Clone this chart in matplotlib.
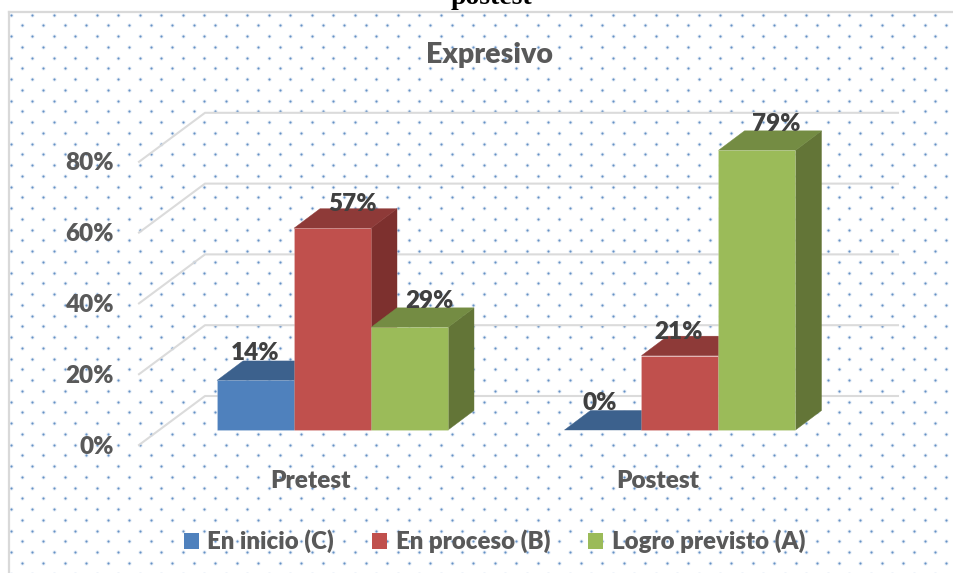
import numpy as np
import matplotlib.pyplot as plt
from matplotlib.patches import Polygon, Patch

plt.rcParams['font.family'] = ['Lato', 'DejaVu Sans']

categories = ["Pretest", "Postest"]
series_names = ["En inicio (C)", "En proceso (B)", "Logro previsto (A)"]
inicio = [14, 0]
proceso = [57, 21]
logro = [29, 79]
y_ticks = [0, 20, 40, 60, 80]

# front, top and side colours of each series
colors = [("#4f81bd", "#3c618d", "#335379"),
          ("#c0504d", "#8e3a38", "#7d302e"),
          ("#9bbb59", "#748c43", "#637537")]

W, H = 954, 573
PX_X = 347.5   # pixels per category
PX_Y = 3.54    # pixels per percent
X0, Y0 = 332.5, 430   # pixel position of first category, value 0

bar_w = 77 / PX_X
depth_x = 26 / PX_X
depth_y = 19.5 / PX_Y
wall_left = (205 - X0) / PX_X
wall_right = (898 - X0) / PX_X
wall_y = 34 / PX_Y
front_left = (139 - X0) / PX_X
front_y = -15 / PX_Y
FONT_WEIGHT = "heavy"

fig = plt.figure(figsize=(W / 100, H / 100), dpi=100)

# dotted chart background, drawn in pixel units
bg = fig.add_axes([0, 0, 1, 1])
bg.set_xlim(0, W)
bg.set_ylim(H, 0)
bg.axis("off")
dx, dy = 21.5, 10.75
dots_x, dots_y = [], []
for i, yy in enumerate(np.arange(14.7, H + dy, dy)):
    start = 11.0 if i % 2 == 0 else 21.7
    for xx in np.arange(start, W + dx, dx):
        dots_x.append(xx)
        dots_y.append(yy)
bg.scatter(dots_x, dots_y, s=9, color="#4f81bd", alpha=0.15, linewidths=0)
bg.scatter(dots_x, dots_y, s=2.4, color="#4f81bd", alpha=0.85, linewidths=0)
bg.plot([9.5, 9.5], [H, 12], color="#d9d9d9", lw=1.6)
bg.plot([9.5, W], [12, 12], color="#d9d9d9", lw=1.6)
bg.text(491, 4.5, "postest", family="Liberation Serif", weight="bold", fontsize=20,
        color="black", ha="center", va="baseline")

# chart axes: x in categories, y in percent
ax = fig.add_axes([0, 0, 1, 1])
ax.patch.set_alpha(0)
ax.set_xlim(-X0 / PX_X, (W - X0) / PX_X)
ax.set_ylim((Y0 - H) / PX_Y, Y0 / PX_Y)
ax.axis("off")

for v in y_ticks:
    ax.plot([front_left, wall_left, wall_right],
            [v + front_y, v + wall_y, v + wall_y],
            color="#d9d9d9", lw=1.5, alpha=0.95, zorder=2)
    ax.text((114 - X0) / PX_X, v + front_y - 1.5 / PX_Y, f"{v}%", ha="right", va="center",
            fontsize=17.5, weight=FONT_WEIGHT, color="#595959", zorder=6)

values = [inicio, proceso, logro]
# horizontal shift of each data label, by category and series, in pixels
label_dx = [[0, 20, 20], [-3, -1, 19]]
label_dy = [27, 24, 26]

z = 3
for g, cat in enumerate(categories):
    for s, vals in enumerate(values):
        v = vals[g]
        left = g + (s - 1.5) * bar_w
        right = left + bar_w
        front, top, side = colors[s]
        # side, top, then front face
        ax.add_patch(Polygon([(right, 0), (right + depth_x, depth_y),
                              (right + depth_x, v + depth_y), (right, v)],
                             closed=True, fc=side, ec=side, lw=0.3, zorder=z))
        ax.add_patch(Polygon([(left, v), (left + depth_x, v + depth_y),
                              (right + depth_x, v + depth_y), (right, v)],
                             closed=True, fc=top, ec=top, lw=0.3, zorder=z))
        if v > 0:
            ax.bar(left, v, width=bar_w, align="edge", color=front,
                   edgecolor=(1, 1, 1, 0.2), linewidth=0.6, zorder=z + 0.5)
        z += 1
    # category label sits on the front of the floor
    ax.text(g - 22 / PX_X, -50.5 / PX_Y, cat, ha="center", va="center",
            fontsize=17.5, weight=FONT_WEIGHT, color="#595959", zorder=30)

for g in range(len(categories)):
    for s, vals in enumerate(values):
        v = vals[g]
        center = g + (s - 1) * bar_w
        ax.annotate(f"{v}%", (center, v), xytext=(label_dx[g][s], label_dy[s]),
                    textcoords="offset pixels", ha="center", va="center",
                    fontsize=17.5, weight=FONT_WEIGHT, color="#404040", zorder=40)

ax.text((490 - X0) / PX_X, (Y0 - 55) / PX_Y, "Expresivo", ha="center", va="center",
        fontsize=20.5, weight=FONT_WEIGHT, color="#595959", zorder=40)

handles = [Patch(facecolor=c[0], edgecolor="none", label=n) for c, n in zip(colors, series_names)]
ax.legend(handles=handles, ncol=3, frameon=False, loc="center",
          bbox_to_anchor=(494.5 / W, 1 - 541.5 / H),
          labelcolor="#595959", prop={"weight": FONT_WEIGHT, "size": 17.3},
          handlelength=0.62, handleheight=0.62, handletextpad=0.35, columnspacing=1.6,
          borderpad=0, borderaxespad=0)

fig.savefig("out.png", dpi=100)
